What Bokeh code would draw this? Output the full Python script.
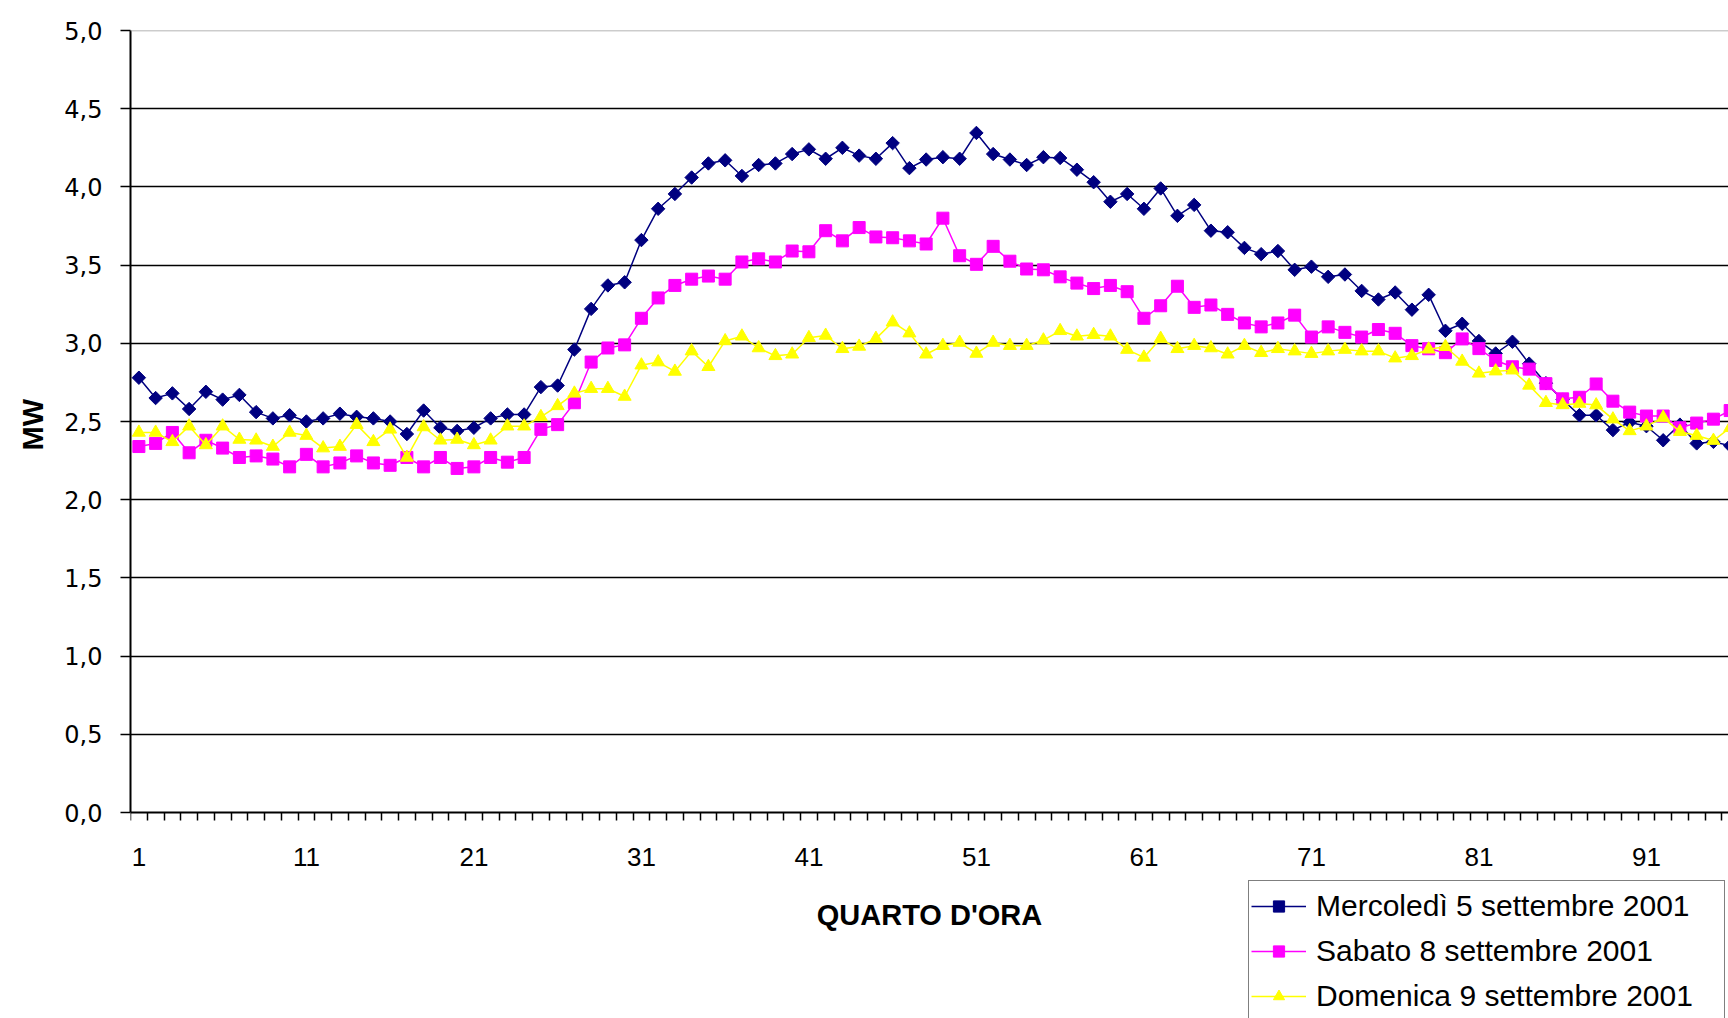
import numpy as np
from bokeh.plotting import figure
from bokeh.models import Range1d, FixedTicker, Span, Legend, LegendItem, Title
from bokeh.embed import file_html
from bokeh.resources import INLINE

# ---------------- data ----------------
quarti = list(range(1, 97))

mercoledi = [2.78, 2.65, 2.68, 2.58, 2.69, 2.64, 2.67, 2.56, 2.52, 2.54,
             2.50, 2.52, 2.55, 2.53, 2.52, 2.50, 2.42, 2.57, 2.46, 2.44,
             2.46, 2.52, 2.545, 2.545, 2.72, 2.73, 2.96, 3.22, 3.37, 3.39,
             3.66, 3.86, 3.955, 4.06, 4.15, 4.17, 4.07, 4.14, 4.15, 4.21,
             4.24, 4.18, 4.25, 4.20, 4.18, 4.28, 4.12, 4.175, 4.19, 4.18,
             4.345, 4.21, 4.175, 4.14, 4.19, 4.185, 4.11, 4.03, 3.905, 3.955,
             3.86, 3.99, 3.815, 3.885, 3.72, 3.71, 3.61, 3.57, 3.59, 3.47,
             3.49, 3.425, 3.44, 3.335, 3.28, 3.325, 3.215, 3.31, 3.08, 3.125,
             3.015, 2.935, 3.01, 2.87, 2.745, 2.64, 2.54, 2.54, 2.445, 2.495,
             2.47, 2.38, 2.48, 2.36, 2.37, 2.345]

sabato = [2.34, 2.36, 2.43, 2.30, 2.38, 2.33, 2.27, 2.28, 2.26, 2.21,
          2.29, 2.21, 2.235, 2.28, 2.235, 2.22, 2.27, 2.21, 2.27, 2.20,
          2.21, 2.27, 2.24, 2.27, 2.45, 2.48, 2.62, 2.88, 2.97, 2.99,
          3.16, 3.29, 3.37, 3.41, 3.43, 3.41, 3.52, 3.54, 3.52, 3.59,
          3.585, 3.72, 3.655, 3.74, 3.68, 3.675, 3.655, 3.635, 3.80, 3.56,
          3.505, 3.62, 3.525, 3.475, 3.47, 3.425, 3.385, 3.35, 3.37, 3.33,
          3.16, 3.24, 3.365, 3.23, 3.245, 3.185, 3.13, 3.105, 3.13, 3.18,
          3.04, 3.105, 3.07, 3.04, 3.088, 3.064, 2.985, 2.965, 2.94, 3.028,
          2.966, 2.89, 2.85, 2.835, 2.742, 2.645, 2.655, 2.74, 2.63, 2.56,
          2.535, 2.535, 2.46, 2.49, 2.515, 2.57]

domenica = [2.43, 2.43, 2.37, 2.47, 2.35, 2.47, 2.385, 2.38, 2.34, 2.43,
            2.41, 2.33, 2.34, 2.48, 2.37, 2.45, 2.27, 2.465, 2.38, 2.385,
            2.35, 2.38, 2.47, 2.47, 2.53, 2.60, 2.68, 2.71, 2.71, 2.66,
            2.86, 2.88, 2.82, 2.95, 2.85, 3.015, 3.045, 2.97, 2.92, 2.93,
            3.035, 3.05, 2.965, 2.98, 3.03, 3.135, 3.065, 2.93, 2.985, 3.005,
            2.935, 3.005, 2.985, 2.985, 3.02, 3.08, 3.045, 3.055, 3.045, 2.96,
            2.91, 3.03, 2.965, 2.985, 2.97, 2.93, 2.985, 2.94, 2.965, 2.95,
            2.934, 2.95, 2.96, 2.95, 2.95, 2.905, 2.92, 2.962, 2.978, 2.884,
            2.808, 2.822, 2.828, 2.731, 2.62, 2.606, 2.615, 2.605, 2.515, 2.44,
            2.47, 2.525, 2.435, 2.41, 2.378, 2.46]

series_names = ["Mercoledì 5 settembre 2001",
                "Sabato 8 settembre 2001",
                "Domenica 9 settembre 2001"]

x_tick_values = [1, 11, 21, 31, 41, 51, 61, 71, 81, 91]
x_tick_labels = ["1", "11", "21", "31", "41", "51", "61", "71", "81", "91"]
y_tick_values = [0.0, 0.5, 1.0, 1.5, 2.0, 2.5, 3.0, 3.5, 4.0, 4.5, 5.0]
y_tick_labels = ["0,0", "0,5", "1,0", "1,5", "2,0", "2,5", "3,0", "3,5", "4,0", "4,5", "5,0"]

x_title = "QUARTO D'ORA"
y_title = "MW"

# ---------------- figure ----------------
# The reference is cropped on the right and bottom: the visible window of the
# value axis starts below 0 so that the x axis (fixed at 0) and the legend sit
# inside the frame.
p = figure(width=1728, height=1018,
           x_range=Range1d(0.5, 95.9), y_range=Range1d(-1.317, 5),
           output_backend="svg", toolbar_location=None,
           min_border_left=130, min_border_top=30,
           min_border_bottom=0, min_border_right=0)
p.background_fill_color = "white"
p.border_fill_color = "white"
p.outline_line_color = None

# x axis (drawn at MW = 0)
boundaries = [q - 0.5 for q in quarti] + [quarti[-1] + 0.5]
p.xaxis.fixed_location = 0
p.xaxis.ticker = FixedTicker(ticks=x_tick_values, minor_ticks=boundaries)
p.xaxis.major_label_overrides = {v: s for v, s in zip(x_tick_values, x_tick_labels)}
p.xaxis.major_tick_line_color = None
p.xaxis.major_tick_out = 8
p.xaxis.major_tick_in = 0
p.xaxis.minor_tick_out = 8
p.xaxis.minor_tick_in = 0
p.xaxis.minor_tick_line_color = "black"
p.xaxis.minor_tick_line_width = 1.5
p.xaxis.axis_line_color = "black"
p.xaxis.axis_line_width = 2
p.xaxis.major_label_text_font = "Liberation Sans"
p.xaxis.major_label_text_font_size = "26px"
p.xaxis.major_label_text_color = "black"
p.xaxis.major_label_standoff = 27
p.xaxis.axis_label = x_title
p.xaxis.axis_label_text_font = "Liberation Sans"
p.xaxis.axis_label_text_font_style = "bold"
p.xaxis.axis_label_text_font_size = "29px"
p.xaxis.axis_label_text_color = "black"
p.xaxis.axis_label_standoff = 30

# y axis
p.yaxis.ticker = FixedTicker(ticks=y_tick_values)
p.yaxis.bounds = (y_tick_values[0], y_tick_values[-1])
p.yaxis.major_label_overrides = {v: s for v, s in zip(y_tick_values, y_tick_labels)}
p.yaxis.major_tick_out = 10
p.yaxis.major_tick_in = 0
p.yaxis.major_tick_line_width = 1.5
p.yaxis.minor_tick_line_color = None
p.yaxis.axis_line_color = "black"
p.yaxis.axis_line_width = 2
p.yaxis.major_label_text_font = "DejaVu Sans"
p.yaxis.major_label_text_font_size = "24px"
p.yaxis.major_label_text_color = "black"
p.yaxis.major_label_standoff = 18

# y title, centred on the 0..5 part of the value axis
y_t = Title(text=y_title, align="left", offset=568,
            text_font="Liberation Sans", text_font_style="bold",
            text_font_size="29px", text_color="black", standoff=26)
p.add_layout(y_t, "left")

# grid
p.xgrid.visible = False
p.ygrid.ticker = FixedTicker(ticks=y_tick_values[1:-1])
p.ygrid.grid_line_color = "black"
p.ygrid.grid_line_width = 1.5
p.add_layout(Span(location=y_tick_values[-1], dimension="width",
                  line_color="#9a9a9a", line_width=1.5))

# series
colors = ["#000080", "#FF00FF", "#FFFF00"]
values = [mercoledi, sabato, domenica]
markers = [("square", np.pi / 4, 9.5), ("square", 0.0, 12), ("triangle", 0.0, 13)]

items = []
for name, col, vals, (mk, ang, sz) in zip(series_names, colors, values, markers):
    ln = p.line(quarti, vals, line_color=col, line_width=1.5)
    sc = p.scatter(quarti, vals, marker=mk, angle=ang, size=sz,
                   fill_color=col, line_color=col, line_width=1)
    items.append(LegendItem(label=name, renderers=[ln, sc]))

legend = Legend(items=items, location=(1118, -3))
legend.padding = 2
legend.spacing = 0
legend.margin = 0
legend.label_height = 45
legend.glyph_height = 28
legend.glyph_width = 55
legend.label_width = 406
legend.label_standoff = 10
legend.label_text_font = "Liberation Sans"
legend.label_text_font_size = "30px"
legend.label_text_color = "black"
legend.border_line_color = "black"
legend.border_line_width = 1.5
legend.background_fill_color = "white"
legend.background_fill_alpha = 1.0
p.add_layout(legend)

open("out.html", "w").write(file_html(p, INLINE))
